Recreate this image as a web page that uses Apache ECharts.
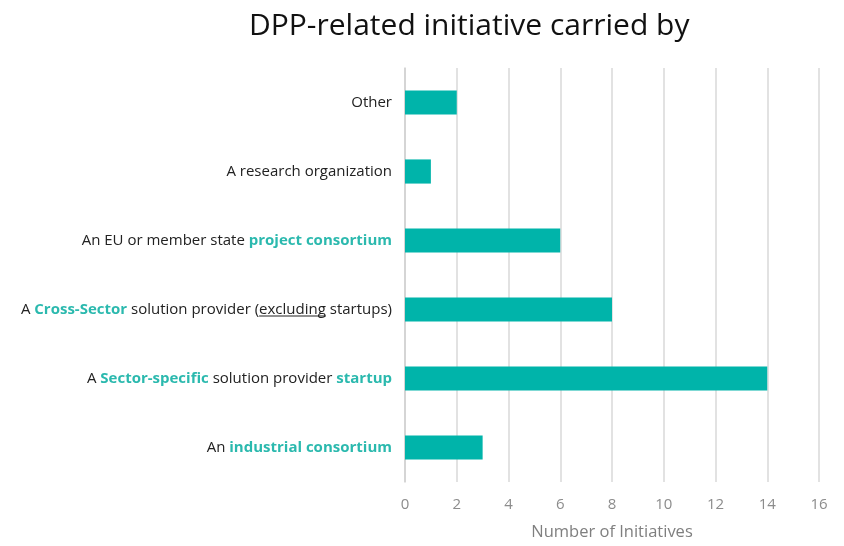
<!DOCTYPE html>
<html><head><meta charset="utf-8">
<script src="https://cdn.jsdelivr.net/npm/echarts@6/dist/echarts.min.js"></script>
<style>html,body{margin:0;padding:0;background:#fff}#c{width:844px;height:546px}</style>
</head><body><div id="c"></div>
<script>
// categories (bottom to top), each as rich-text segments
const categories = [
  "An {t|industrial consortium}",
  "A {t|Sector-specific} solution provider {t|startup}",
  "A {t|Cross-Sector} solution provider ({u|excluding} startups)",
  "An EU or member state {t|project consortium}",
  "A research organization",
  "Other"
];
const values = [3, 14, 8, 6, 1, 2];
const xTicks = [0, 2, 4, 6, 8, 10, 12, 14, 16];

const FONT = "Open Sans";
const TEAL = "#00B4AA";
const LFS = 15;

// underline image for rich text
const uc = document.createElement('canvas');
uc.width = 4; uc.height = 20;
const ux = uc.getContext('2d');
ux.fillStyle = '#222';
ux.fillRect(0, 18, 4, 1.4);

const chart = echarts.init(document.getElementById('c'), null, {renderer: 'canvas'});
chart.setOption({
  animation: false,
  title: {
    text: 'DPP-related initiative carried by',
    left: 244, top: 6,
    textStyle: {fontFamily: FONT, fontSize: 30, fontWeight: 'normal', color: '#111'}
  },
  grid: {left: 405, right: 25, top: 68, bottom: 59, containLabel: false},
  xAxis: {
    type: 'value', min: xTicks[0], max: xTicks[xTicks.length - 1], interval: 2,
    name: 'Number of Initiatives', nameLocation: 'middle', nameGap: 42,
    nameTextStyle: {fontFamily: FONT, fontSize: 16.5, color: '#7f7f7f'},
    axisLine: {show: false},
    axisTick: {show: false},
    axisLabel: {fontFamily: FONT, fontSize: 15, color: '#8c8c8c', margin: 15},
    splitLine: {show: true, lineStyle: {color: '#d9d9d9', width: 1.5}}
  },
  yAxis: {
    type: 'category', data: categories,
    axisLine: {show: true, lineStyle: {color: '#d0d0d0', width: 1.5}},
    axisTick: {show: false},
    axisLabel: {
      fontFamily: FONT, fontSize: LFS, color: '#222', margin: 13,
      formatter: v => v,
      rich: {
        t: {fontFamily: FONT, fontSize: LFS, color: '#2BB9AE', fontWeight: 'bold'},
        u: {fontFamily: FONT, fontSize: LFS, color: '#222', backgroundColor: {image: uc}}
      }
    }
  },
  series: [{
    type: 'bar', data: values, barWidth: '35%',
    itemStyle: {color: TEAL}
  }]
});
</script></body></html>
